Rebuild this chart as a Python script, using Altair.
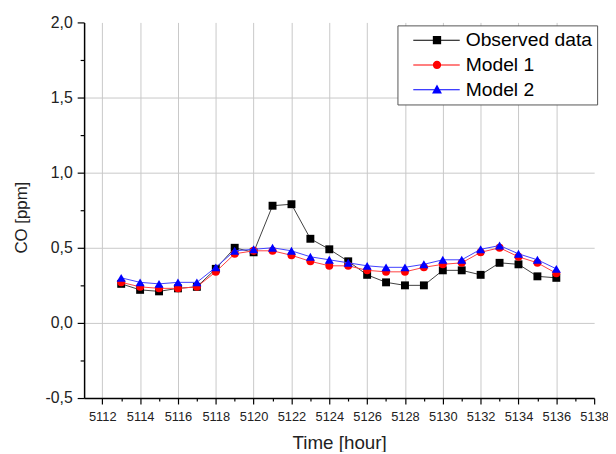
import altair as alt
import pandas as pd

FONT = "Liberation Sans"

hours = list(range(5113, 5137))
observed = [0.26, 0.22, 0.21, 0.23, 0.24, 0.36, 0.50, 0.47, 0.78, 0.79, 0.56, 0.49,
            0.41, 0.32, 0.27, 0.25, 0.25, 0.35, 0.35, 0.32, 0.40, 0.39, 0.31, 0.30]
model1 = [0.27, 0.24, 0.23, 0.23, 0.24, 0.34, 0.46, 0.48, 0.48, 0.45, 0.41, 0.38,
          0.38, 0.35, 0.34, 0.34, 0.37, 0.39, 0.40, 0.47, 0.50, 0.44, 0.40, 0.33]
model2 = [0.30, 0.27, 0.26, 0.27, 0.27, 0.37, 0.48, 0.49, 0.50, 0.48, 0.44, 0.42,
          0.40, 0.38, 0.37, 0.37, 0.39, 0.42, 0.42, 0.49, 0.515, 0.46, 0.42, 0.36]

series_names = ["Observed data", "Model 1", "Model 2"]
series_values = [observed, model1, model2]
marker_colors = ["#000000", "#ff0000", "#0000ff"]
line_colors = ["#404040", "#ff4040", "#4040ff"]
marker_shapes = ["square", "circle", "triangle-up"]
marker_sizes = [64, 64, 85]

x_major = list(range(5112, 5139, 2))
x_minor = list(range(5113, 5138, 2))
x_grid = list(range(5112, 5137, 2))
y_major = [-0.5, 0.0, 0.5, 1.0, 1.5, 2.0]
y_minor = [-0.25, 0.25, 0.75, 1.25, 1.75]
y_grid = [0.0, 0.5, 1.0, 1.5]

# legend symbols (unit = 10 px): a line with the marker on it
LINE = "M0.1,-0.05H4.8V0.05H0.1Z"
legend_paths = [
    LINE + "M2.08,-0.42H2.92V0.42H2.08Z",
    LINE + "M2.92,0A0.42,0.42,0,1,1,2.08,0A0.42,0.42,0,1,1,2.92,0Z",
    LINE + "M2.5,-0.52L3.0,0.4L2.0,0.4Z",
]

rows = []
for name, vals in zip(series_names, series_values):
    for h, v in zip(hours, vals):
        rows.append({"hour": h, "co": v, "series": name})
df = pd.DataFrame(rows)

xs = alt.Scale(domain=[5111.04, 5138], nice=False, zero=False)
ys = alt.Scale(domain=[-0.5, 2.0], nice=False, zero=False)

axis_x_main = alt.Axis(orient="bottom", values=x_major, grid=False, tickSize=6,
                       tickColor="black", tickWidth=1.2, domainColor="black", domainWidth=1.5,
                       labelFont=FONT, labelFontSize=13, labelColor="#222", labelPadding=7,
                       labelFlush=False, labelOverlap=False, format="d",
                       title="Time [hour]", titleFont=FONT, titleFontSize=19,
                       titleFontWeight="normal", titleColor="#222", titleY=45,
                       titleBaseline="middle")
axis_x_minor = alt.Axis(orient="bottom", values=x_minor, grid=False, tickSize=3,
                        tickColor="black", tickWidth=1.2, domain=False, labels=False, title=None)
axis_x_grid = alt.Axis(orient="bottom", values=x_grid, grid=True, gridColor="#c8c8c8",
                       gridWidth=1, ticks=False, labels=False, domain=False, title=None)

axis_y_main = alt.Axis(orient="left", values=y_major, grid=False, tickSize=7,
                       tickColor="black", tickWidth=1.2, domainColor="black", domainWidth=1.5,
                       labelFont=FONT, labelFontSize=16, labelColor="#222", labelPadding=5,
                       labelExpr="(datum.value < 0 ? '-' : '') + replace(format(abs(datum.value), '.1f'), '.', ',')",
                       labelOverlap=False, labelFlush=False,
                       title="CO [ppm]", titleFont=FONT, titleFontSize=17,
                       titleFontWeight="normal", titleColor="#222", titleAngle=270,
                       titleX=-63, titleY=197, titleAlign="center", titleBaseline="middle")
axis_y_minor = alt.Axis(orient="left", values=y_minor, grid=False, tickSize=4,
                        tickColor="black", tickWidth=1.2, domain=False, labels=False, title=None)
axis_y_grid = alt.Axis(orient="left", values=y_grid, grid=True, gridColor="#c8c8c8",
                       gridWidth=1, ticks=False, labels=False, domain=False, title=None)

axes_x = [axis_x_main, axis_x_minor, axis_x_grid]
axes_y = [axis_y_main, axis_y_minor, axis_y_grid]

base = alt.Chart(df)
layers = []
for i, name in enumerate(series_names):
    sub = base.transform_filter(alt.datum.series == name)
    line = sub.mark_line(color=line_colors[i], strokeWidth=1).encode(
        x=alt.X("hour:Q", scale=xs, axis=axes_x[i]),
        y=alt.Y("co:Q", scale=ys, axis=axes_y[i]),
    )
    pts = sub.mark_point(shape=marker_shapes[i], filled=True, opacity=1,
                         size=marker_sizes[i], color=marker_colors[i]).encode(
        x=alt.X("hour:Q", scale=xs, axis=None),
        y=alt.Y("co:Q", scale=ys, axis=None),
    )
    layers += [line, pts]

legend = alt.Legend(title=None, orient="none", legendX=317, legendY=3,
                    strokeColor="#555555", fillColor="white", padding=5,
                    rowPadding=5, labelFont=FONT, labelFontSize=19.5, labelColor="black",
                    labelOffset=44, symbolSize=400, symbolStrokeWidth=0,
                    symbolOpacity=1, labelLimit=300)

legend_layer = base.mark_point(filled=True, opacity=0, size=10).encode(
    x=alt.X("hour:Q", scale=xs, axis=None),
    y=alt.Y("co:Q", scale=ys, axis=None),
    color=alt.Color("series:N", scale=alt.Scale(domain=series_names, range=marker_colors),
                    legend=legend),
    shape=alt.Shape("series:N", scale=alt.Scale(domain=series_names, range=legend_paths),
                    legend=legend),
)
layers.append(legend_layer)

chart = alt.layer(*layers).resolve_axis(x="independent", y="independent").properties(
    width=516, height=380,
    autosize=alt.AutoSizeParams(type="none"),
    padding={"left": 77, "top": 12, "right": 14, "bottom": 52},
    background="white",
).configure_view(stroke=None)

chart.save("out.html", embed_options={"renderer": "svg", "actions": False})
